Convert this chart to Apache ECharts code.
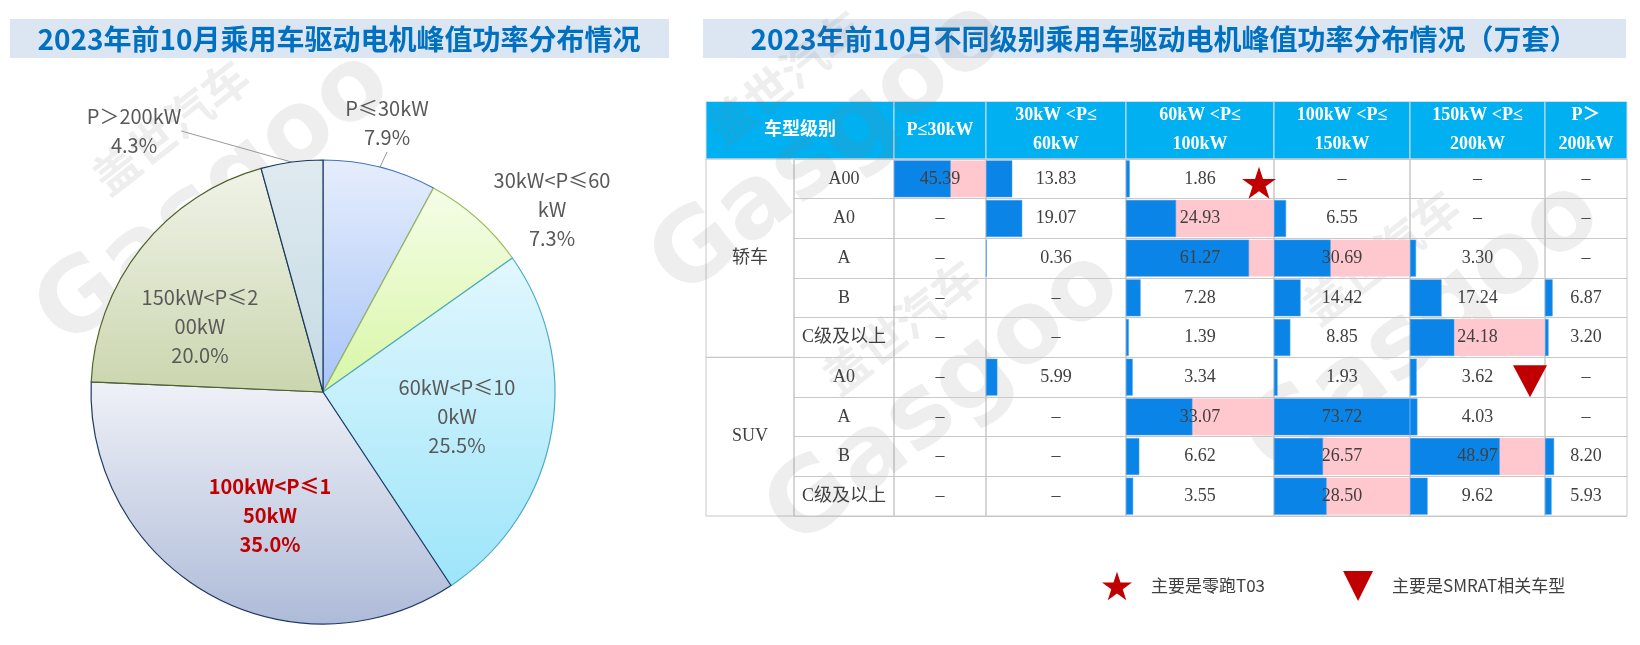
<!DOCTYPE html>
<html><head><meta charset="utf-8">
<script src="https://cdn.jsdelivr.net/npm/echarts@6/dist/echarts.min.js"></script>
<style>html,body{margin:0;padding:0;background:#fff}#c{width:1640px;height:645px}</style>
</head><body><div id="c"></div>
<script>
// ---------------- data ----------------
const pieNames = ['P≤30kW', '30kW<P≤60kW', '60kW<P≤100kW', '100kW<P≤150kW', '150kW<P≤200kW', 'P＞200kW'];
const pieValues = [7.9, 7.3, 25.5, 35.0, 20.0, 4.3];

const groups = ['轿车', 'SUV'];
const groupSizes = [5, 4];
const levels = ['A00', 'A0', 'A', 'B', 'C级及以上', 'A0', 'A', 'B', 'C级及以上'];
const headFirst = '车型级别';
const colHeaders = ['P≤30kW', '30kW <P≤\n60kW', '60kW <P≤\n100kW', '100kW <P≤\n150kW', '150kW <P≤\n200kW', 'P＞\n200kW'];
const colP30 = [45.39, null, null, null, null, null, null, null, null];
const col30to60 = [13.83, 19.07, 0.36, null, null, 5.99, null, null, null];
const col60to100 = [1.86, 24.93, 61.27, 7.28, 1.39, 3.34, 33.07, 6.62, 3.55];
const col100to150 = [null, 6.55, 30.69, 14.42, 8.85, 1.93, 73.72, 26.57, 28.50];
const col150to200 = [null, null, 3.30, 17.24, 24.18, 3.62, 4.03, 48.97, 9.62];
const colP200 = [null, null, null, 6.87, 3.20, null, null, 8.20, 5.93];
const notes = [
  { name: '主要是零跑T03', col: 2, row: 0, shape: 'star' },
  { name: '主要是SMRAT相关车型', col: 4, row: 5, shape: 'tri' }
];
const highlightAbove = 20;

// ---------------- layout / style ----------------
const cols = [colP30, col30to60, col60to100, col100to150, col150to200, colP200];
const MAX = Math.max(...cols.flat().filter(v => v != null));
const colX = [706, 794, 894, 986, 1126, 1274, 1410, 1545, 1627];
const headTop = 101.5, bodyTop = 159, rowH = 39.67;
const nRows = levels.length;
const lineC = '#c8c8c8';
const serif = '"Liberation Serif", "Noto Sans CJK SC", serif';
const sans = '"Noto Sans CJK SC", "Noto Sans", sans-serif';
const STAR = 'path://M50,0 L61.2,34.5 L97.6,34.5 L68.2,55.9 L79.4,90.5 L50,69.1 L20.6,90.5 L31.8,55.9 L2.4,34.5 L38.8,34.5 Z';
const TRI = 'path://M0,0 L100,0 L50,100 Z';

const grids = [], xAxes = [], yAxes = [], series = [];
function addGrid(left, top, width, height, extra) {
  grids.push(Object.assign({ left, top, width, height, show: true, borderColor: lineC, borderWidth: 1, backgroundColor: 'transparent', containLabel: false, outerBoundsMode: 'none' }, extra || {}));
  return grids.length - 1;
}
function centeredY(gi, data, w, fmt, labelStyle, split) {
  yAxes.push({
    gridIndex: gi, type: 'category', inverse: true, data, z: 6,
    axisLine: { show: false }, axisTick: { show: false },
    splitLine: { show: !!split, interval: 0, lineStyle: { color: lineC, width: 1 } },
    axisLabel: Object.assign({ inside: true, align: 'center', margin: w / 2, interval: 0, formatter: fmt }, labelStyle)
  });
}
function hiddenX(gi, max) {
  xAxes.push({ gridIndex: gi, type: 'value', min: 0, max: max || 1, show: false });
}

// header cells
const headStyle = { color: '#ffffff', fontSize: 18, lineHeight: 29, fontWeight: 'bold', fontFamily: serif };
{
  const w = colX[2] - colX[0];
  const gi = addGrid(colX[0], headTop, w, bodyTop - headTop, { backgroundColor: '#00B0F0', borderColor: '#d6dde3' });
  hiddenX(gi); centeredY(gi, [headFirst], w, v => v, headStyle, false);
}
colHeaders.forEach((h, c) => {
  const w = colX[c + 3] - colX[c + 2];
  const gi = addGrid(colX[c + 2], headTop, w, bodyTop - headTop, { backgroundColor: '#00B0F0', borderColor: '#d6dde3' });
  hiddenX(gi); centeredY(gi, [h], w, v => v, headStyle, false);
});

// group column
const cellStyle = { color: '#404040', fontSize: 18, fontFamily: serif };
let r0 = 0;
groups.forEach((g, k) => {
  const w = colX[1] - colX[0];
  const gi = addGrid(colX[0], bodyTop + r0 * rowH, w, groupSizes[k] * rowH);
  hiddenX(gi); centeredY(gi, [g], w, v => v, cellStyle, false);
  r0 += groupSizes[k];
});

// level column
{
  const w = colX[2] - colX[1];
  const gi = addGrid(colX[1], bodyTop, w, nRows * rowH);
  hiddenX(gi); centeredY(gi, levels.map((l, i) => String(i)), w, (v, i) => levels[i], cellStyle, true);
}

// data columns
const colGrid = [];
cols.forEach((vals, c) => {
  const w = colX[c + 3] - colX[c + 2];
  const gi = addGrid(colX[c + 2], bodyTop, w, nRows * rowH);
  colGrid.push(gi);
  xAxes.push({ gridIndex: gi, type: 'value', min: 0, max: MAX, show: false });
  centeredY(gi, levels.map((l, i) => String(i)), w, (v, i) => vals[i] == null ? '–' : vals[i].toFixed(2), cellStyle, true);
  series.push({
    type: 'bar', xAxisIndex: gi, yAxisIndex: gi, silent: true, z: 1,
    barGap: '-100%', barCategoryGap: '7%',
    data: vals.map(v => (v != null && v > highlightAbove) ? MAX : '-'),
    itemStyle: { color: '#FFC7CE', opacity: 1 }
  });
  series.push({
    type: 'bar', xAxisIndex: gi, yAxisIndex: gi, silent: true, z: 2,
    barGap: '-100%', barCategoryGap: '7%',
    data: vals.map(v => v == null ? '-' : v),
    itemStyle: { color: '#0A84E6', borderColor: '#4aa3ee', borderWidth: 0.5, opacity: 1 }
  });
});

// note markers
notes.forEach(n => {
  const gi = colGrid[n.col];
  series.push({
    type: 'scatter', name: n.name, xAxisIndex: gi, yAxisIndex: gi, silent: true, z: 10, clip: false,
    symbol: n.shape === 'star' ? STAR : TRI, symbolSize: [34, 32], symbolOffset: [-15, 4],
    itemStyle: { color: '#C00000', opacity: 1 },
    data: [[MAX, n.row]]
  });
});

// pie
const pieC = [323, 392], pieR = 232;
const pieFill = [
  ['#E6EEFC', '#A8C4F8', '#4472C4'],
  ['#F5FDE8', '#D8F6A6', '#9BBB59'],
  ['#E2F7FD', '#9DE5FA', '#4BACC6'],
  ['#EFF1F7', '#AEBBD8', '#1F3864'],
  ['#F0F3E8', '#CAD6AE', '#4F6228'],
  ['#DFEAF0', '#C5DAE3', '#17375E']
];
const labelPos = [[64, -269], [229, -183], [134, 24], [-53, 123], [-123, -66], [-189, -261]];
function wrap(s) { const out = []; for (let i = 0; i < s.length; i += 9) out.push(s.slice(i, i + 9)); return out.join('\n'); }
series.push({
  type: 'pie', center: pieC, radius: pieR, startAngle: 90, clockwise: true, avoidLabelOverlap: false, silent: true,
  label: { show: true, position: 'inside', color: '#595959', fontSize: 20, lineHeight: 29, fontFamily: sans, align: 'center',
    formatter: p => wrap(p.name) + '\n' + p.value.toFixed(1) + '%' },
  labelLine: { show: false },
  labelLayout: p => ({ x: pieC[0] + labelPos[p.dataIndex][0], y: pieC[1] + labelPos[p.dataIndex][1], align: 'center', verticalAlign: 'middle' }),
  data: pieNames.map((name, i) => {
    const item = {
      name, value: pieValues[i],
      itemStyle: { borderColor: pieFill[i][2], borderWidth: 1.2, opacity: 1,
        color: { type: 'linear', x: 0, y: 0, x2: 0, y2: 1, colorStops: [{ offset: 0, color: pieFill[i][0] }, { offset: 1, color: pieFill[i][1] }] } }
    };
    if (i === 0 || i === 5) {
      item.label = { position: 'outside' };
      item.labelLine = { show: true, length: 8, length2: 0, lineStyle: { color: '#999999', width: 1 } };
    }
    if (i === 1) item.label = { position: 'outside' };
    if (i === 3) item.label = { color: '#C00000', fontWeight: 'bold' };
    return item;
  })
});

// watermark (decoration)
const wmFill = 'rgba(120,120,120,0.13)';
const wmSpots = [[215, 200], [345, 420], [830, 150], [945, 400], [1425, 330]];
const watermark = [];
wmSpots.forEach(([x, y]) => {
  watermark.push({
    type: 'group', x, y, rotation: 38 * Math.PI / 180, silent: true, z: 100,
    children: [
      { type: 'text', x: 0, y: 0, style: { text: 'Gasgoo', fill: wmFill, font: 'bold 100px "DejaVu Sans", sans-serif', textAlign: 'center', textVerticalAlign: 'middle' } },
      { type: 'text', x: 10, y: -85, style: { text: '盖世汽车', fill: wmFill, font: 'bold 46px ' + sans, textAlign: 'center', textVerticalAlign: 'middle' } }
    ]
  });
});

const chart = echarts.init(document.getElementById('c'), null, { renderer: 'canvas' });
chart.setOption({
  animation: false,
  backgroundColor: '#ffffff',
  grid: grids, xAxis: xAxes, yAxis: yAxes, series,
  legend: {
    data: notes.map(n => n.name), left: 1097, top: 566, itemWidth: 30, itemHeight: 32, itemGap: 78, selectedMode: false,
    textStyle: { fontSize: 17, color: '#404040', fontFamily: sans, padding: [0, 0, 0, 14] }
  },
  graphic: [
    { type: 'rect', shape: { x: 10, y: 19, width: 659, height: 39 }, style: { fill: '#DCE6F2' }, silent: true, z: -1 },
    { type: 'rect', shape: { x: 703, y: 19, width: 923, height: 39 }, style: { fill: '#DCE6F2' }, silent: true, z: -1 },
    { type: 'text', x: 339, y: 39, silent: true, style: { text: '2023年前10月乘用车驱动电机峰值功率分布情况', fill: '#0070C0', font: 'bold 28px ' + sans, textAlign: 'center', textVerticalAlign: 'middle' } },
    { type: 'text', x: 1164, y: 39, silent: true, style: { text: '2023年前10月不同级别乘用车驱动电机峰值功率分布情况（万套）', fill: '#0070C0', font: 'bold 28px ' + sans, textAlign: 'center', textVerticalAlign: 'middle' } }
  ].concat(watermark)
});
</script></body></html>
